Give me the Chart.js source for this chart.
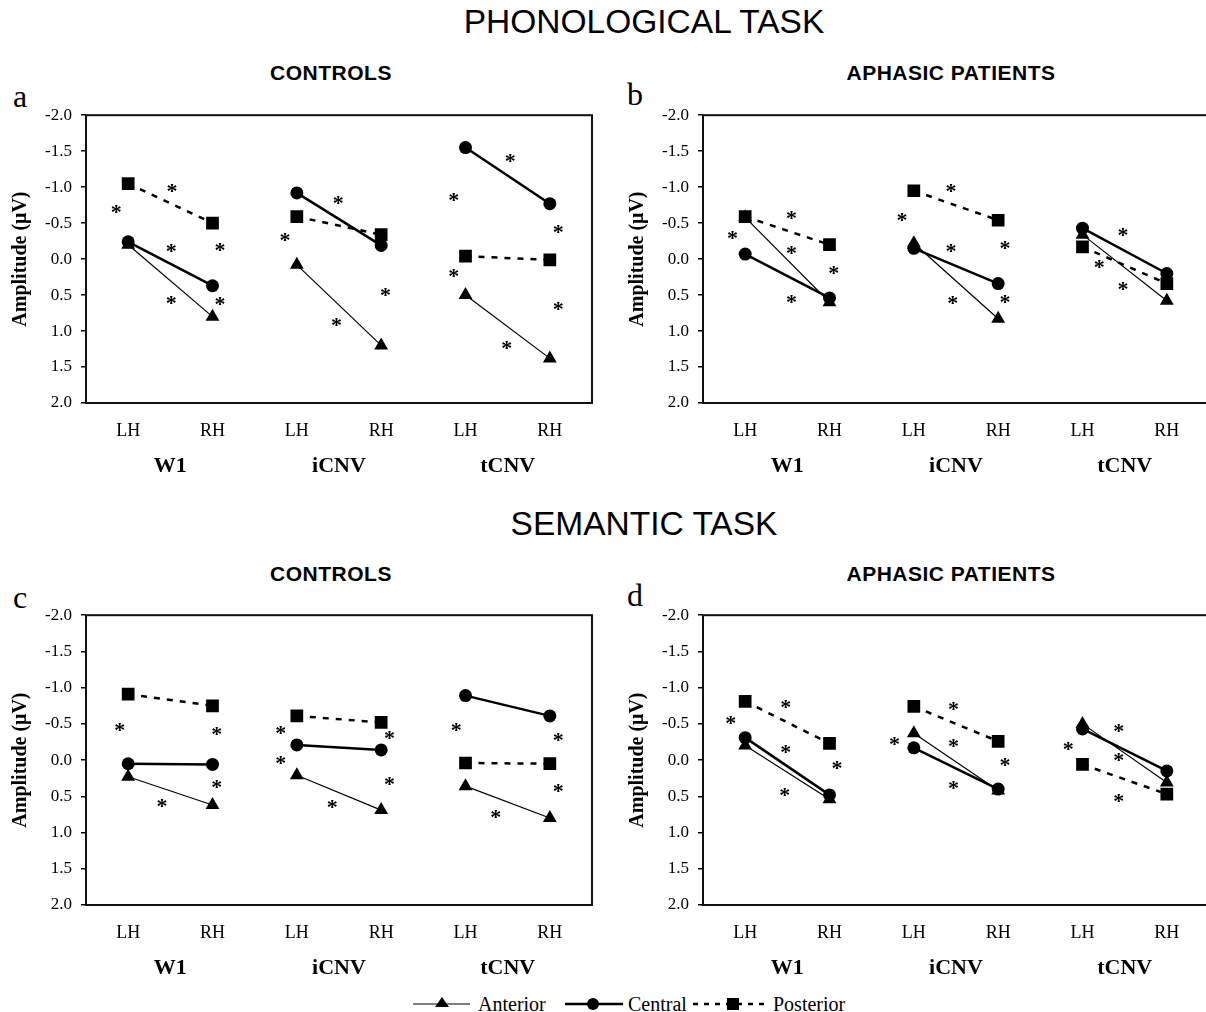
<!DOCTYPE html>
<html>
<head>
<meta charset="utf-8">
<script src="https://cdn.jsdelivr.net/npm/chart.js@4.4.1/dist/chart.umd.min.js"></script>
<style>
html,body{margin:0;padding:0;background:#fff;width:1206px;height:1012px;overflow:hidden;position:relative}
.t{position:absolute;white-space:nowrap;color:#000;line-height:1;transform:translate(-50%,-50%)}
.main{font-family:"Liberation Sans",Arial,sans-serif;font-size:33.5px}
.sub{font-family:"Liberation Sans",Arial,sans-serif;font-weight:bold;font-size:21px;letter-spacing:0.5px}
.letter{position:absolute;font-family:"Liberation Serif","Times New Roman",serif;font-size:32px;line-height:1;color:#000}
canvas{position:absolute}
.lg{position:absolute;font-family:"Liberation Serif","Times New Roman",serif;font-size:20px;line-height:1;color:#000;transform:translateY(-50%);white-space:nowrap}
svg{position:absolute;overflow:visible}
</style>
</head>
<body>
<div class="t main" style="left:644px;top:22px">PHONOLOGICAL TASK</div>
<div class="t main" style="left:644px;top:524px">SEMANTIC TASK</div>
<div class="t sub" style="left:331px;top:72px">CONTROLS</div>
<div class="t sub" style="left:951px;top:72px">APHASIC PATIENTS</div>
<div class="t sub" style="left:331px;top:573px">CONTROLS</div>
<div class="t sub" style="left:951px;top:573px">APHASIC PATIENTS</div>
<div class="letter" style="left:13px;top:80px">a</div>
<div class="letter" style="left:627px;top:78px">b</div>
<div class="letter" style="left:13px;top:581px">c</div>
<div class="letter" style="left:627px;top:579px">d</div>

<canvas id="pa" width="610" height="394" style="left:0px;top:96px"></canvas>
<canvas id="pb" width="610" height="394" style="left:617px;top:96px"></canvas>
<canvas id="pc" width="610" height="396" style="left:0px;top:596px"></canvas>
<canvas id="pd" width="610" height="396" style="left:617px;top:596px"></canvas>

<svg style="left:413px;top:994px" width="58" height="20">
  <line x1="0" y1="10" x2="57" y2="10" stroke="#000" stroke-width="1.2"/>
  <polygon points="29,3 36,13 22,13" fill="#000"/>
</svg>
<div class="lg" style="left:478px;top:1004px">Anterior</div>
<svg style="left:565px;top:994px" width="58" height="20">
  <line x1="0" y1="10" x2="58" y2="10" stroke="#000" stroke-width="2.5"/>
  <circle cx="28" cy="10" r="6" fill="#000"/>
</svg>
<div class="lg" style="left:628px;top:1004px">Central</div>
<svg style="left:693px;top:994px" width="76" height="20">
  <line x1="0" y1="10" x2="76" y2="10" stroke="#000" stroke-width="2.5" stroke-dasharray="5,6"/>
  <rect x="34" y="4" width="12" height="12" fill="#000"/>
</svg>
<div class="lg" style="left:773px;top:1004px">Posterior</div>

<script>
// ---- shared axis labels ----
const categories = ['LH', 'RH', 'LH', 'RH', 'LH', 'RH'];
const groups = ['W1', 'iCNV', 'tCNV'];
const groupPositions = [0.5, 2.5, 4.5];
const amplitudeTicks = [-2.0, -1.5, -1.0, -0.5, 0.0, 0.5, 1.0, 1.5, 2.0];
const seriesNames = ['Anterior', 'Central', 'Posterior'];

// ---- (a) Phonological task, controls ----
const phonCtrlAnterior  = [-0.20, 0.80, 0.08, 1.20, 0.50, 1.38];
const phonCtrlCentral   = [-0.24, 0.37, -0.92, -0.19, -1.55, -0.77];
const phonCtrlPosterior = [-1.05, -0.50, -0.59, -0.34, -0.04, 0.01];
const phonCtrlStars = [[-0.14,-0.69],[0.52,-0.99],[0.51,-0.15],[0.51,0.57],[1.09,-0.17],[1.09,0.58],
  [1.86,-0.31],[2.49,-0.82],[2.47,0.87],[3.05,0.46],[3.86,-0.87],[3.86,0.20],[4.53,-1.41],[4.49,1.20],[5.10,-0.42],[5.10,0.65]];

// ---- (b) Phonological task, aphasic patients ----
const phonAphAnterior  = [-0.58, 0.60, -0.22, 0.83, -0.34, 0.58];
const phonAphCentral   = [-0.07, 0.54, -0.15, 0.34, -0.43, 0.20];
const phonAphPosterior = [-0.59, -0.20, -0.95, -0.54, -0.17, 0.34];
const phonAphStars = [[-0.15,-0.34],[0.55,-0.61],[0.55,-0.13],[0.55,0.56],[1.05,0.15],[1.86,-0.58],
  [2.44,-0.99],[2.44,-0.15],[2.46,0.57],[3.08,-0.19],[3.08,0.56],[4.48,-0.38],[4.20,0.07],[4.48,0.37]];

// ---- (c) Semantic task, controls ----
const semCtrlAnterior  = [0.23, 0.62, 0.21, 0.69, 0.36, 0.80];
const semCtrlCentral   = [0.05, 0.06, -0.21, -0.14, -0.89, -0.61];
const semCtrlPosterior = [-0.91, -0.75, -0.61, -0.52, 0.04, 0.05];
const semCtrlStars = [[-0.10,-0.46],[1.05,-0.40],[1.05,0.33],[0.40,0.59],[1.81,-0.42],[1.81,0.00],
  [3.10,-0.34],[3.10,0.29],[2.42,0.60],[3.89,-0.45],[5.10,-0.32],[5.10,0.38],[4.36,0.75]];

// ---- (d) Semantic task, aphasic patients ----
const semAphAnterior  = [-0.20, 0.54, -0.37, 0.42, -0.50, 0.31];
const semAphCentral   = [-0.31, 0.48, -0.17, 0.40, -0.43, 0.15];
const semAphPosterior = [-0.81, -0.23, -0.74, -0.26, 0.06, 0.47];
const semAphStars = [[-0.17,-0.56],[0.48,-0.78],[0.48,-0.16],[0.47,0.44],[1.09,0.07],[1.77,-0.26],
  [2.47,-0.75],[2.47,-0.23],[2.47,0.34],[3.08,0.03],[3.83,-0.19],[4.43,-0.44],[4.43,-0.04],[4.43,0.52]];

const SERIF = '"Liberation Serif", "Times New Roman", serif';

const boxPlugin = {
  id: 'box',
  beforeDatasetsDraw(chart) {
    const a = chart.chartArea, c = chart.ctx;
    c.save();
    c.strokeStyle = '#111';
    c.lineWidth = 2;
    c.strokeRect(a.left, a.top, a.right - a.left, a.bottom - a.top);
    c.restore();
  }
};

function starsPlugin(stars) {
  return {
    id: 'stars',
    afterDatasetsDraw(chart) {
      const c = chart.ctx, xs = chart.scales.x, ys = chart.scales.y;
      c.save();
      c.fillStyle = '#000';
      c.font = 'bold 22px ' + SERIF;
      c.textAlign = 'center';
      c.textBaseline = 'alphabetic';
      stars.forEach(([sx, sy]) => {
        c.fillText('*', xs.getPixelForValue(sx), ys.getPixelForValue(sy) + 10);
      });
      c.restore();
    }
  };
}

function makePanel(id, ant, cen, pos, stars) {
  const toPts = arr => arr.map((v, i) => ({ x: i, y: v }));
  const seg = { borderColor: ctx => (ctx.p0DataIndex % 2 === 1 ? 'rgba(0,0,0,0)' : '#000') };
  new Chart(document.getElementById(id), {
    type: 'line',
    data: {
      datasets: [
        { label: seriesNames[0], data: toPts(ant), borderColor: '#000', backgroundColor: '#000',
          borderWidth: 1.2, pointStyle: 'triangle', pointRadius: 8, pointBorderWidth: 0, segment: seg },
        { label: seriesNames[1], data: toPts(cen), borderColor: '#000', backgroundColor: '#000',
          borderWidth: 2.5, pointStyle: 'circle', pointRadius: 6.5, pointBorderWidth: 0, segment: seg },
        { label: seriesNames[2], data: toPts(pos), borderColor: '#000', backgroundColor: '#000',
          borderWidth: 2.5, borderDash: [6, 7], pointStyle: 'rect', pointRadius: 9, pointBorderWidth: 0, segment: seg }
      ]
    },
    options: {
      responsive: false,
      animation: false,
      events: [],
      layout: { padding: { top: 14, right: 18, left: 0, bottom: 0 } },
      plugins: { legend: { display: false }, tooltip: { enabled: false } },
      scales: {
        x: {
          type: 'linear', position: 'bottom', min: -0.5, max: 5.5, weight: 0,
          grid: { display: false, drawTicks: false }, border: { display: false },
          ticks: { autoSkip: false, maxRotation: 0, padding: 17, color: '#000',
                   font: { family: SERIF, size: 18 }, callback: (v, i) => categories[i] },
          afterBuildTicks: s => { s.ticks = categories.map((c, i) => ({ value: i })); },
          afterFit: s => { s.height = 45; }
        },
        x2: {
          type: 'linear', position: 'bottom', min: -0.5, max: 5.5, weight: 1,
          grid: { display: false, drawTicks: false }, border: { display: false },
          ticks: { autoSkip: false, maxRotation: 0, padding: 5, color: '#000',
                   font: { family: SERIF, size: 22, weight: 'bold' }, callback: (v, i) => groups[i] },
          afterBuildTicks: s => { s.ticks = groupPositions.map(p => ({ value: p })); },
          afterFit: s => { s.height = 42; }
        },
        y: {
          type: 'linear', position: 'left', min: -2, max: 2, reverse: true,
          grid: { display: true, drawOnChartArea: false, drawTicks: true, tickLength: 5, color: '#000', lineWidth: 1.5 },
          border: { display: false },
          ticks: { padding: 9, color: '#000', font: { family: SERIF, size: 17 }, callback: v => v.toFixed(1) },
          afterBuildTicks: s => { s.ticks = amplitudeTicks.map(v => ({ value: v })); },
          title: { display: true, text: 'Amplitude (μV)', color: '#000',
                   font: { family: SERIF, size: 20, weight: 'bold' }, padding: { top: 9, bottom: 0 } },
          afterFit: s => { s.width = 86; }
        }
      }
    },
    plugins: [boxPlugin, starsPlugin(stars)]
  });
}

makePanel('pa', phonCtrlAnterior, phonCtrlCentral, phonCtrlPosterior, phonCtrlStars);
makePanel('pb', phonAphAnterior, phonAphCentral, phonAphPosterior, phonAphStars);
makePanel('pc', semCtrlAnterior, semCtrlCentral, semCtrlPosterior, semCtrlStars);
makePanel('pd', semAphAnterior, semAphCentral, semAphPosterior, semAphStars);
</script>
</body>
</html>
